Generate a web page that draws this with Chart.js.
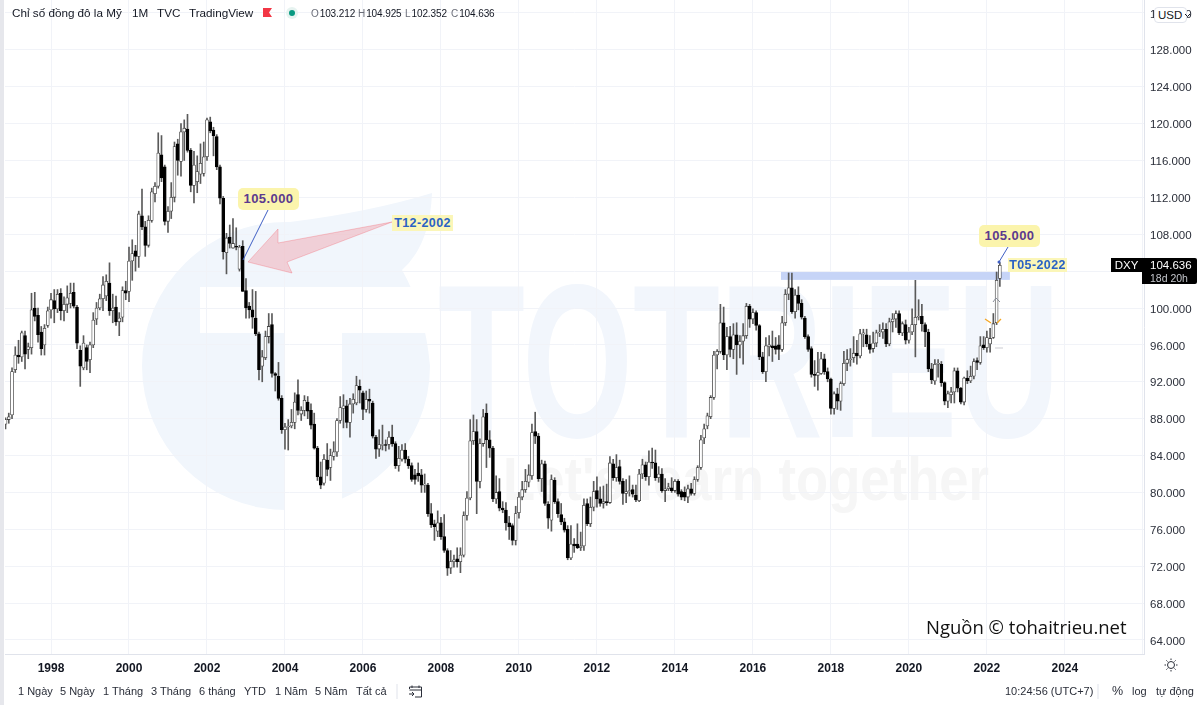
<!DOCTYPE html>
<html lang="vi">
<head>
<meta charset="utf-8">
<title>Chỉ số đồng đô la Mỹ</title>
<script src="https://cdn.jsdelivr.net/npm/chart.js@4"></script>
<style>
  html, body { margin: 0; padding: 0; background: #fff; }
  #stage { position: relative; width: 1200px; height: 705px; overflow: hidden; font-family: "Liberation Sans", Arial, sans-serif; color: #131722; }
  #stage > svg, #stage > canvas { position: absolute; left: 0; top: 0; }
  #mark { z-index: 0; }
  #chart { z-index: 1; }
  #notes { z-index: 2; }
  .t { position: absolute; z-index: 3; white-space: nowrap; line-height: 1; }
  .head { font-size: 11.7px; top: 7px; }
  .bar { font-size: 11px; top: 686px; color: #2a2e39; }
  .ohlc { font-size: 10px; top: 9px; letter-spacing: -.1px; }
  .ohlc i { font-style: normal; color: #6a6d78; margin-right: 1px; }
  .call { background: #fbf4ac; border-radius: 5px; color: #5b3a8e; font-weight: bold; font-size: 13px; letter-spacing: .4px; text-align: center; box-sizing: border-box; }
  .tag { background: #fbf6b8; color: #2a62c4; font-weight: bold; font-size: 12.5px; letter-spacing: .4px; text-align: center; box-sizing: border-box; }
</style>
</head>
<body>
<div id="stage">
  <svg id="mark" width="1200" height="705">
    <path fill="#f1f6fc" d="M142 366 A144 144 0 0 1 290 222 Q370 212 432 193 Q430 245 402 270 Q425 310 430 366 A144 144 0 0 1 142 366 Z"/>
    <rect x="200" y="287" width="265" height="46" fill="#fff"/>
    <rect x="285" y="330" width="57" height="185" fill="#fff"/>
    <text x="438" y="437" font-family="Liberation Sans" font-weight="bold" font-size="219" fill="#f2f6fc" textLength="622" lengthAdjust="spacingAndGlyphs">TOTRIEU</text>
    <text x="503" y="500" font-family="Liberation Sans" font-weight="bold" font-size="62" fill="#f6f6f6" textLength="486" lengthAdjust="spacingAndGlyphs">Let's learn together</text>
  </svg>
  <canvas id="chart" width="1200" height="705"></canvas>
  <svg id="notes" width="1200" height="705">
    <rect x="0" y="0" width="4" height="705" fill="#e6e7ec"/>
    <path d="M248 262 L278 229 L278 243 L392 222 L287 262 L292 273 Z" fill="rgba(242,54,69,.2)" stroke="rgba(242,54,69,.25)"/>
    <line x1="268" y1="210" x2="243" y2="260" stroke="#3f5fc4"/>
    <line x1="1008" y1="247" x2="999" y2="262" stroke="#3f5fc4"/>
    <circle cx="999" cy="262" r="1.5" fill="#3f5fc4"/>
    <path d="M985 319 L991 323 M1001 319 L997 323" stroke="#f5a623" stroke-width="1.3" fill="none"/>
    <path d="M993 302 L996 298 L1000 302" stroke="#8a8e99" fill="none"/>
    <line x1="995" y1="348" x2="1003" y2="348" stroke="#dcdde1" stroke-width="1.5"/>
    <!-- co trong tieu de -->
    <path d="M263 8 H272 L269 12.5 L272 17 H263 Z" fill="#f23645"/>
    <circle cx="292" cy="13" r="6" fill="#e6f3f0"/>
    <circle cx="292" cy="13" r="3" fill="#089981"/>
    <!-- nut mat troi -->
    <g stroke="#2a2e39" fill="none">
      <circle cx="1171" cy="665" r="3.5"/>
      <path d="M1171 658.5V660M1171 670V671.5M1164.5 665H1166M1176 665H1177.5M1166.4 660.4L1167.5 661.5M1174.5 668.5L1175.6 669.6M1175.6 660.4L1174.5 661.5M1167.5 668.5L1166.4 669.6"/>
    </g>
    <!-- lich -->
    <g stroke="#2a2e39" fill="none">
      <path d="M409.5 689V687H421.5V697H415M409.5 690H421.5M412 685.5V688M419 685.5V688M409 694H414M412 692L414 694L412 696"/>
    </g>
    <line x1="397" y1="684" x2="397" y2="699" stroke="#e0e3eb"/>
    <line x1="1098" y1="684" x2="1098" y2="699" stroke="#e0e3eb"/>
  </svg>

  <div class="t head" style="left:12px">Chỉ số đồng đô la Mỹ</div>
  <div class="t head" style="left:132px">1M</div>
  <div class="t head" style="left:157px">TVC</div>
  <div class="t head" style="left:189px">TradingView</div>
  <div class="t ohlc" style="left:311px"><i>O</i>103.212</div>
  <div class="t ohlc" style="left:358px"><i>H</i>104.925</div>
  <div class="t ohlc" style="left:405px"><i>L</i>102.352</div>
  <div class="t ohlc" style="left:451px"><i>C</i>104.636</div>
  <div class="t" style="left:1154px;top:7px;width:33px;height:16px;box-sizing:border-box;background:#fff;border:1px solid #e0e3eb;border-radius:4px;font-size:11.5px;line-height:14px;padding-left:3px">USD<svg width="7" height="5" style="margin-left:2px;vertical-align:1px"><path d="M1 1L3.5 3.5L6 1" stroke="#131722" fill="none"/></svg></div>

  <div class="t call" style="left:238px;top:188px;width:61px;height:22px;line-height:22px">105.000</div>
  <div class="t tag" style="left:392px;top:215px;width:61px;height:16px;line-height:16px">T12-2002</div>
  <div class="t call" style="left:979px;top:225px;width:61px;height:22px;line-height:22px">105.000</div>
  <div class="t tag" style="left:1008px;top:258px;width:59px;height:14px;line-height:14px">T05-2022</div>

  <div class="t" style="left:1111px;top:258px;width:31px;height:14px;background:#000;color:#fff;font-size:11.5px;line-height:14px;text-align:center">DXY</div>
  <div class="t" style="left:1142px;top:258px;width:55px;height:26px;background:#000;border-radius:0 2px 2px 0"></div>
  <div class="t" style="left:1150px;top:260px;color:#fff;font-size:11.5px">104.636</div>
  <div class="t" style="left:1150px;top:273px;color:#c4c6cc;font-size:10.5px">18d 20h</div>

  <div class="t" style="left:926px;top:617px;font-family:'Open Sans';font-size:18.5px;line-height:20px;color:#111">Nguồn © tohaitrieu.net</div>

  <div class="t bar" style="left:18px">1 Ngày</div>
  <div class="t bar" style="left:60px">5 Ngày</div>
  <div class="t bar" style="left:103px">1 Tháng</div>
  <div class="t bar" style="left:151px">3 Tháng</div>
  <div class="t bar" style="left:199px">6 tháng</div>
  <div class="t bar" style="left:244px">YTD</div>
  <div class="t bar" style="left:275px">1 Năm</div>
  <div class="t bar" style="left:315px">5 Năm</div>
  <div class="t bar" style="left:356px">Tất cả</div>
  <div class="t bar" style="left:1005px">10:24:56 (UTC+7)</div>
  <div class="t bar" style="left:1112px;font-size:12.5px;top:685px">%</div>
  <div class="t bar" style="left:1132px">log</div>
  <div class="t bar" style="left:1156px">tự động</div>
</div>

<script>
// nen thang, moi hang la mot nam, bat dau tu T11-1996
const opens = [
  87.4,87.9,
  88.4,93.3,94.9,94.7,97.0,95.5,95.7,100.0,99.2,97.4,96.0,98.1,
  99.8,100.8,99.9,101.6,99.7,100.4,100.5,101.7,100.1,95.4,93.5,95.7,
  94.4,96.0,98.8,100.0,101.0,101.3,102.7,99.7,100.1,98.5,99.0,101.9,
  101.8,105.1,106.2,105.6,110.0,108.8,106.8,109.5,112.4,113.2,116.6,115.3,
  109.4,110.5,112.0,117.8,115.9,119.1,119.4,117.1,113.3,113.7,114.5,114.6,
  116.4,120.2,119.3,118.6,115.3,111.9,106.0,107.7,106.5,106.7,104.2,106.7,
  101.9,100.2,99.8,98.9,97.2,93.7,94.6,96.9,98.2,92.9,92.6,90.2,
  86.8,87.1,87.2,87.6,90.6,88.5,88.9,89.8,88.9,87.4,84.8,81.7,
  81.0,83.5,82.7,83.9,84.4,87.8,89.1,89.4,87.6,89.6,89.7,91.5,
  90.8,89.0,90.1,89.7,86.0,84.7,85.1,85.2,85.2,86.0,85.3,82.9,
  83.6,84.6,83.6,82.9,81.9,82.1,81.9,80.8,80.8,77.7,76.6,75.8,
  76.7,75.2,73.7,71.8,72.5,72.8,72.5,73.2,77.5,79.4,85.6,86.6,
  81.2,85.3,88.6,85.7,84.8,79.3,80.1,78.3,78.1,76.7,76.4,74.8,
  77.8,79.5,80.3,81.1,81.8,86.6,86.1,81.5,83.1,78.7,77.0,81.3,
  79.0,77.6,76.8,76.0,72.9,74.4,74.4,74.0,74.2,78.8,76.6,78.4,
  80.2,79.3,78.8,79.0,78.9,83.1,81.6,82.8,81.2,79.9,80.1,80.3,
  79.7,79.1,82.0,83.0,81.7,83.3,83.2,81.6,82.0,80.2,80.4,80.5,
  80.2,81.2,80.1,80.0,79.5,80.4,79.9,81.4,82.7,85.9,87.2,88.2,
  90.3,94.9,95.3,98.4,94.9,96.9,95.5,97.1,96.0,96.4,97.0,100.2,
  98.8,99.5,98.1,94.7,93.1,95.8,95.9,95.9,96.0,95.5,98.4,101.5,
  102.2,99.6,101.4,100.5,98.9,96.9,95.6,92.8,92.7,92.9,94.5,93.1,
  92.3,89.1,90.7,89.9,91.8,94.0,94.4,94.6,95.1,94.8,97.2,97.1,
  96.1,95.6,96.2,97.3,97.4,97.7,96.1,98.5,98.8,99.4,97.3,98.2,
  96.5,97.4,98.2,99.0,99.1,98.2,97.4,93.4,92.1,93.9,93.9,91.9,
  89.9,90.6,90.9,93.2,91.3,89.8,92.4,92.1,92.6,94.3,94.1,96.0,
  95.7,96.1,96.8,98.4,103.212
];
const highs = [
  88.1,88.6,
  93.5,95.8,96.5,97.5,97.5,96.2,101.6,101.7,100.0,98.0,98.2,100.1,
  101.6,102.0,102.0,102.1,101.2,102.4,102.7,102.7,100.3,95.9,97.0,96.0,
  96.3,99.5,100.6,101.5,103.4,103.6,104.9,101.5,101.3,99.5,102.3,102.9,
  106.6,107.4,106.8,110.5,112.9,109.4,110.0,113.0,113.6,119.0,118.7,115.5,
  111.0,113.6,118.0,118.3,120.0,120.4,121.0,117.3,117.0,116.5,117.8,118.0,
  120.6,120.7,119.6,118.8,115.5,112.1,108.1,109.0,109.7,108.7,106.8,107.3,
  103.2,100.6,102.0,101.8,97.4,95.4,97.5,99.4,99.4,93.0,94.1,90.5,
  87.5,87.9,89.0,90.8,92.2,89.3,90.5,90.4,89.6,88.6,85.0,83.3,
  84.1,85.3,84.7,85.5,88.0,90.4,90.6,90.0,90.2,90.7,92.6,92.2,
  91.0,91.0,91.2,89.9,86.2,86.8,87.3,85.7,86.6,87.3,85.5,85.0,
  85.2,85.3,83.9,83.2,82.5,83.2,82.5,82.0,81.0,78.8,77.0,78.0,
  77.3,77.6,73.9,73.7,73.2,74.0,74.0,77.9,80.1,87.9,88.4,87.9,
  85.8,89.0,89.6,86.7,85.0,81.8,81.5,79.0,78.9,77.4,76.6,78.5,
  80.0,81.2,82.5,83.0,87.4,88.7,86.4,83.5,83.4,79.0,81.9,81.6,
  79.3,78.8,77.2,76.4,76.4,75.0,76.6,75.7,79.3,79.3,79.5,81.2,
  81.7,80.6,80.7,80.9,83.9,83.6,84.1,83.5,81.5,81.4,81.8,80.8,
  80.8,82.5,83.6,83.3,84.5,84.8,84.6,82.8,82.6,81.5,81.0,81.6,
  81.4,81.4,80.3,80.6,80.8,81.0,81.7,82.9,86.2,87.4,88.6,90.5,
  95.3,95.5,100.4,100.1,97.9,98.0,98.3,98.4,97.0,98.3,100.5,100.4,
  99.9,99.7,98.2,95.2,96.8,97.0,97.5,96.8,97.0,99.1,102.0,103.8,
  103.8,102.0,102.3,100.9,99.1,97.1,95.8,94.3,95.2,95.2,95.0,93.5,
  92.4,90.9,91.3,92.0,95.3,95.5,95.6,96.9,96.5,97.7,97.7,97.7,
  97.0,97.4,97.6,98.2,98.4,98.3,98.9,99.4,99.7,99.7,98.5,98.7,
  97.9,99.9,103.0,100.9,100.4,98.4,97.7,94.0,94.4,94.4,94.2,92.0,
  91.0,91.4,93.5,93.5,91.4,92.5,93.2,93.7,94.5,94.6,96.9,96.9,
  97.5,97.8,99.4,103.9,104.925
];
const lows = [
  86.9,87.5,
  88.0,93.0,94.0,94.2,93.4,94.5,95.0,98.6,96.3,94.9,94.9,97.9,
  98.9,98.4,99.5,98.7,98.6,99.5,100.0,100.0,95.6,91.5,93.3,93.3,
  93.0,95.7,98.2,99.8,99.7,100.8,99.2,98.4,98.1,97.0,98.5,100.9,
  100.7,103.0,104.0,104.4,108.5,105.6,106.6,109.3,111.5,113.0,113.7,109.0,
  108.2,109.7,111.5,114.4,114.3,116.0,116.9,112.6,111.4,112.5,113.5,114.3,
  116.0,119.0,116.5,115.0,111.3,105.3,103.7,106.5,106.5,106.3,104.0,101.8,
  98.9,98.9,97.8,97.0,92.2,92.0,94.4,96.2,92.5,91.0,90.0,86.4,
  84.7,84.6,87.0,86.9,88.4,87.8,88.3,88.0,86.9,84.7,81.3,80.4,
  80.8,81.8,81.3,83.5,83.9,87.5,87.0,87.0,86.0,88.6,89.5,89.7,
  87.9,88.7,88.6,85.9,83.7,83.9,84.6,84.5,84.7,85.0,82.6,82.3,
  83.4,83.2,82.6,81.2,80.9,81.2,80.0,80.0,77.4,76.2,74.8,75.2,
  74.9,73.5,71.0,71.2,71.9,71.9,71.3,73.0,77.0,79.2,85.2,77.7,
  80.5,85.0,82.7,83.8,79.0,78.8,78.0,77.8,75.9,74.9,74.3,74.3,
  77.2,79.2,80.0,80.6,81.4,85.3,81.2,80.1,78.6,76.1,75.8,78.8,
  77.3,76.5,75.7,72.7,72.7,73.5,73.9,73.7,73.7,76.4,76.3,78.0,
  78.4,78.5,78.3,78.6,78.8,81.3,81.2,80.9,78.7,78.9,79.6,79.5,
  79.0,79.0,81.5,81.3,80.8,82.6,81.3,81.1,80.0,79.0,80.2,80.0,
  80.0,79.6,79.2,79.1,78.9,79.7,79.7,81.2,82.5,85.3,86.9,88.0,
  90.1,93.4,95.1,94.4,93.3,94.7,94.5,92.8,94.6,93.9,96.7,97.9,
  98.3,97.6,94.4,92.9,92.0,94.8,94.2,95.0,94.4,95.3,98.1,100.9,
  99.4,98.9,99.8,98.8,96.7,95.3,92.5,91.5,91.1,92.8,92.8,92.0,
  88.5,88.5,89.0,88.9,91.6,93.2,93.7,94.1,93.9,94.6,95.8,95.8,
  95.1,95.2,95.8,96.9,96.7,95.8,95.9,97.4,97.9,97.1,97.0,96.1,
  96.2,97.1,94.7,98.7,97.5,95.8,93.1,91.8,91.7,92.5,91.5,89.5,
  89.2,89.7,89.7,90.9,89.6,89.5,91.8,91.9,92.3,93.3,93.9,95.5,
  95.2,95.2,96.7,98.2,102.352
];
const closes = [
  87.9,88.2,
  93.1,94.9,94.7,97.3,95.0,95.8,99.8,99.1,97.1,95.6,97.8,99.7,
  100.9,99.9,101.5,99.7,100.4,101.1,101.6,100.2,96.2,93.7,96.2,94.2,
  96.0,98.7,100.0,101.0,102.5,102.9,99.7,100.0,98.5,98.9,101.9,101.6,
  105.1,105.9,105.6,110.2,108.8,106.8,109.5,112.6,113.2,116.8,114.1,109.4,
  110.5,112.0,117.5,116.0,119.1,119.5,117.1,113.3,115.5,114.8,115.7,116.4,
  120.4,119.2,118.7,115.3,111.9,106.1,107.6,107.0,107.0,106.6,106.6,101.8,
  100.0,99.8,99.0,97.2,93.3,94.7,96.9,98.0,92.9,92.7,90.2,86.8,
  87.1,87.2,87.6,89.8,88.9,88.9,90.0,88.8,87.3,84.8,81.7,80.8,
  83.6,82.5,84.0,84.4,87.8,89.2,89.4,87.6,89.6,90.1,91.6,91.1,
  89.0,90.1,89.9,86.1,84.7,85.2,85.2,85.1,86.0,85.3,82.9,83.7,
  84.6,83.6,82.9,81.4,81.4,81.8,80.8,80.9,77.7,76.5,76.3,76.7,
  75.2,73.7,71.8,72.5,72.7,72.5,73.2,77.5,79.4,85.6,86.6,81.2,
  85.3,88.2,85.7,84.8,79.3,80.0,78.3,78.1,76.7,76.3,74.8,77.7,
  79.5,80.3,81.2,81.9,86.5,86.1,81.5,83.1,78.8,77.2,81.4,79.0,
  77.7,76.8,75.9,72.9,74.4,74.2,74.0,74.2,78.6,76.6,78.4,80.1,
  79.3,78.8,79.0,78.9,83.2,81.6,82.7,81.2,79.9,80.1,80.2,79.8,
  79.2,82.0,83.0,81.7,83.3,83.2,81.6,82.0,80.2,80.4,80.6,80.2,
  81.2,79.8,79.5,79.5,80.4,79.9,81.4,82.7,85.7,86.9,88.3,90.3,
  94.9,95.3,98.4,94.9,96.9,95.5,97.1,96.0,96.4,97.0,100.2,98.8,
  99.5,98.1,94.7,93.1,95.9,96.0,95.7,95.5,95.5,98.4,101.5,102.2,
  99.6,101.4,100.5,99.0,96.9,95.5,92.8,92.7,93.0,94.5,93.1,92.3,
  89.1,90.7,89.9,91.8,94.0,94.4,94.5,95.1,94.8,97.2,97.3,96.1,
  95.5,96.2,97.3,97.4,97.7,96.1,98.5,98.8,99.4,97.3,98.3,96.5,
  97.4,98.2,99.0,99.1,98.3,97.4,93.4,92.2,93.9,94.0,91.9,89.9,
  90.7,90.9,93.2,91.3,89.8,92.4,92.1,92.6,94.2,94.1,95.9,95.7,
  96.8,96.7,98.3,103.0,104.636
];
const firstYear = 1996 + 10 / 12;

// vung khang cu mau xanh (gia va thoi gian)
const zoneLow = 103.05, zoneHigh = 103.9, zoneFrom = 2016.72, zoneTo = 2022.59;

const times = closes.map((_, i) => firstYear + i / 12);
const wicks = closes.map((_, i) => ({ x: times[i], y: [lows[i], highs[i]] }));
const bodies = closes.map((_, i) => ({ x: times[i], y: [opens[i], closes[i]] }));

const zonePlugin = {
  id: "zone",
  beforeDatasetsDraw(chart) {
    const { ctx, scales: { x, y } } = chart;
    ctx.save();
    ctx.fillStyle = "#c6d4f7";
    ctx.fillRect(x.getPixelForValue(zoneFrom), y.getPixelForValue(zoneHigh),
      x.getPixelForValue(zoneTo) - x.getPixelForValue(zoneFrom),
      y.getPixelForValue(zoneLow) - y.getPixelForValue(zoneHigh));
    ctx.restore();
  }
};

new Chart(document.getElementById("chart"), {
  type: "bar",
  plugins: [zonePlugin],
  data: {
    datasets: [
      { data: wicks, barThickness: 1, backgroundColor: "#5a5a5a", order: 2, grouped: false },
      {
        data: bodies,
        barThickness: 3,
        borderWidth: 0.8,
        borderSkipped: false,
        borderColor: closes.map((c, i) => (c >= opens[i] ? "#444" : "#000")),
        backgroundColor: closes.map((c, i) => (c >= opens[i] ? "#fff" : "#000")),
        order: 1,
        grouped: false
      }
    ]
  },
  options: {
    responsive: false,
    animation: false,
    devicePixelRatio: 1,
    layout: { padding: { left: 5, right: 0, top: 0, bottom: 24 } },
    plugins: { legend: { display: false }, tooltip: { enabled: false } },
    scales: {
      x: {
        type: "linear",
        offset: false,
        min: 1996.82,
        max: 2026.03,
        grid: { color: "#f1f3f8", drawTicks: false, offset: false },
        border: { color: "#e0e3eb" },
        afterFit(axis) { axis.height = 27; axis.paddingLeft = 0; axis.paddingRight = 0; },
        ticks: {
          stepSize: 2,
          includeBounds: false,
          autoSkip: false,
          maxRotation: 0,
          padding: 7,
          color: "#131722",
          font: { family: "Liberation Sans", size: 12, weight: "bold" },
          callback: (v) => (v > 2024 ? "" : String(v))
        }
      },
      y: {
        position: "right",
        min: 62.48,
        max: 133.4,
        grid: { color: "#f1f3f8", drawTicks: false },
        border: { color: "#e0e3eb" },
        afterFit(axis) { axis.width = 56; axis.paddingTop = 0; axis.paddingBottom = 0; },
        ticks: {
          stepSize: 4,
          includeBounds: false,
          padding: 6,
          labelOffset: 1.5,
          color: "#2a2e39",
          font: { family: "Liberation Sans", size: 11.5 },
          callback: (v) => v.toFixed(3)
        }
      }
    }
  }
});
</script>
</body>
</html>
